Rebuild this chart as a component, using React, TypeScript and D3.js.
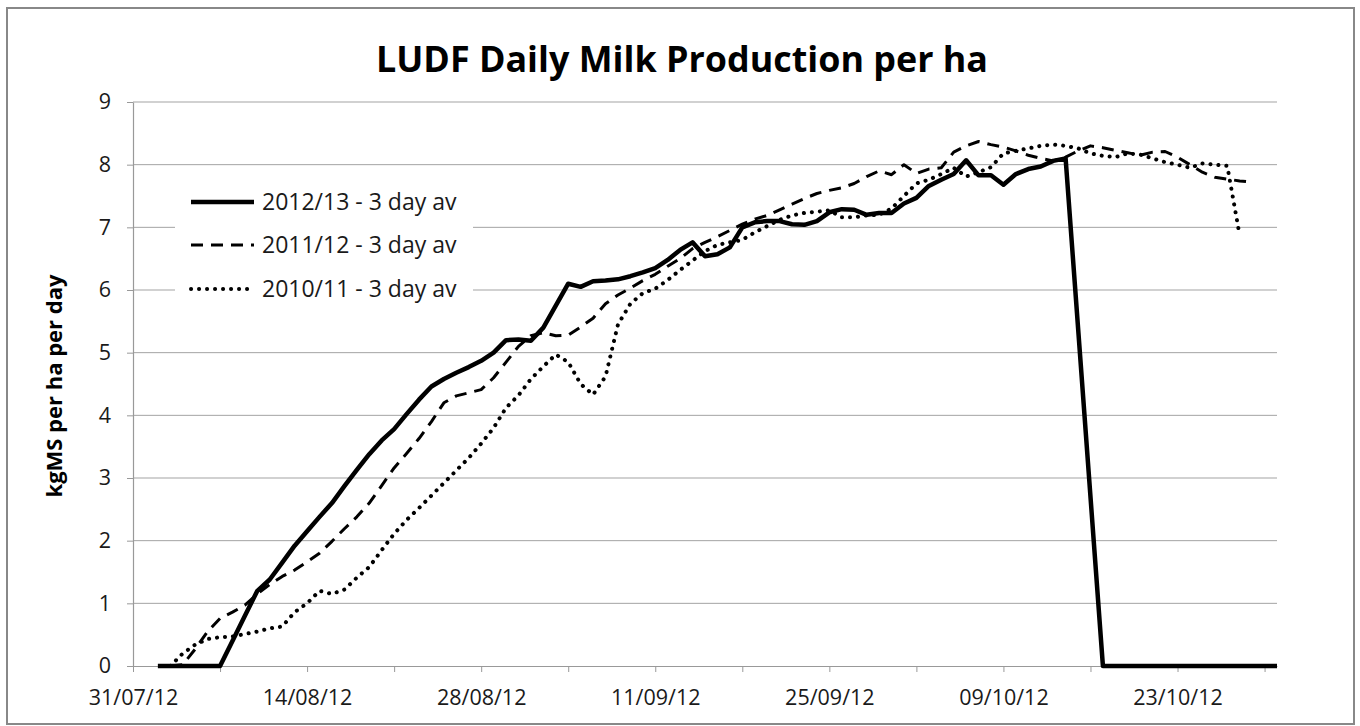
import { useEffect, useRef } from "react";
import * as d3 from "d3";

// daily 3-day-average values from 31/07/12 onwards (index = day), null = no reading
const season1213 = [
  null, null, 0, 0, 0, 0, 0, 0, 0.4, 0.8,
  1.2, 1.38, 1.65, 1.92, 2.15, 2.38, 2.6, 2.87, 3.13, 3.38,
  3.6, 3.78, 4.02, 4.25, 4.46, 4.58, 4.68, 4.77, 4.87, 5.0,
  5.2, 5.21, 5.19, 5.4, 5.75, 6.1, 6.05, 6.14, 6.15, 6.17,
  6.22, 6.28, 6.35, 6.48, 6.64, 6.76, 6.54, 6.57, 6.68, 7.0,
  7.08, 7.1, 7.1, 7.05, 7.04, 7.1, 7.24, 7.29, 7.28, 7.2,
  7.23, 7.23, 7.38, 7.47, 7.66, 7.76, 7.85, 8.07, 7.83, 7.83,
  7.68, 7.85, 7.93, 7.97, 8.06, 8.1, null, null, 0, 0,
  0, 0, 0, 0, 0, 0, 0, 0, 0, 0,
  0, 0, 0,
];

const season1112 = [
  null, null, null, 0, 0.02, 0.27, 0.55, 0.76, 0.86, 0.97,
  1.15, 1.3, 1.43, 1.53, 1.66, 1.8, 1.99, 2.19, 2.38, 2.6,
  2.88, 3.16, 3.39, 3.63, 3.9, 4.2, 4.31, 4.36, 4.41, 4.6,
  4.85, 5.1, 5.27, 5.32, 5.27, 5.28, 5.41, 5.55, 5.78, 5.92,
  6.03, 6.15, 6.25, 6.38, 6.5, 6.66, 6.76, 6.85, 6.95, 7.05,
  7.13, 7.19, 7.28, 7.37, 7.46, 7.54, 7.59, 7.63, 7.7, 7.81,
  7.9, 7.84, 8.0, 7.86, 7.93, 7.95, 8.2, 8.3, 8.37, 8.32,
  8.28, 8.22, 8.15, 8.1, 8.06, 8.12, 8.22, 8.3, 8.27, 8.23,
  8.19, 8.15, 8.2, 8.21, 8.12, 8.0, 7.88, 7.8, 7.77, 7.74,
  7.72, null, null,
];

const season1011 = [
  null, null, null, 0, 0.2, 0.34, 0.43, 0.46, 0.47, 0.51,
  0.55, 0.6, 0.63, 0.86, 1.0, 1.2, 1.15, 1.22, 1.41, 1.58,
  1.85, 2.11, 2.33, 2.52, 2.72, 2.92, 3.12, 3.32, 3.55, 3.8,
  4.12, 4.32, 4.58, 4.78, 4.97, 4.85, 4.5, 4.33, 4.62, 5.45,
  5.78, 5.95, 6.02, 6.16, 6.32, 6.47, 6.62, 6.72, 6.76, 6.8,
  6.92, 7.02, 7.12, 7.19, 7.23, 7.25, 7.27, 7.16, 7.16, 7.19,
  7.2, 7.3, 7.5, 7.7, 7.76, 7.85, 7.95, 7.81, 7.88, 7.96,
  8.18, 8.22, 8.26, 8.3, 8.32, 8.3, 8.26, 8.18, 8.14, 8.12,
  8.18, 8.16, 8.1, 8.04, 8.0, 7.95, 8.02, 8.0, 7.98, 6.87,
  null, null, null,
];

const seriesNames = ["2012/13 - 3 day av", "2011/12 - 3 day av", "2010/11 - 3 day av"];
const yTicks = [0, 1, 2, 3, 4, 5, 6, 7, 8, 9];

const startDate = new Date(Date.UTC(2012, 6, 31));
const endDate = new Date(Date.UTC(2012, 9, 31));

const App = () => {
  const ref = useRef(null);

  useEffect(() => {
    const width = 1360,
      height = 726;
    const plot = { left: 133, right: 1277, top: 102, bottom: 666 };
    const font = "'Open Sans', 'DejaVu Sans', sans-serif";

    const svg = d3.select(ref.current);
    svg.selectAll("*").remove();
    svg.attr("width", width).attr("height", height);

    // chart area frame
    svg
      .append("rect")
      .attr("x", 7)
      .attr("y", 8)
      .attr("width", 1347)
      .attr("height", 716)
      .attr("fill", "white")
      .attr("stroke", "#888")
      .attr("stroke-width", 2);

    const x = d3.scaleUtc().domain([startDate, endDate]).range([plot.left, plot.right]);
    const y = d3.scaleLinear().domain([0, 9]).range([plot.bottom, plot.top]);

    // gridlines
    svg
      .append("g")
      .selectAll("line")
      .data(yTicks.filter((t) => t > 0))
      .join("line")
      .attr("x1", plot.left)
      .attr("x2", plot.right)
      .attr("y1", (d) => y(d))
      .attr("y2", (d) => y(d))
      .attr("stroke", "#a3a3a3")
      .attr("stroke-width", 1);

    // x axis: a tick every week, a label every fortnight
    const weekTicks = d3.utcDay.range(startDate, d3.utcDay.offset(endDate, 1), 7);
    const fmt = d3.utcFormat("%d/%m/%y");
    const xAxis = svg
      .append("g")
      .attr("transform", `translate(0,${plot.bottom})`)
      .call(
        d3
          .axisBottom(x)
          .tickValues(weekTicks)
          .tickFormat((d, i) => (i % 2 === 0 ? fmt(d) : ""))
          .tickSizeInner(6)
          .tickSizeOuter(0)
          .tickPadding(18)
      );
    xAxis.select(".domain").attr("stroke", "#999").attr("stroke-width", 1.2);
    xAxis.selectAll(".tick line").attr("stroke", "#999");
    xAxis
      .selectAll("text")
      .attr("fill", "#1a1a1a")
      .style("font-family", font)
      .style("font-size", "21.5px");

    // y axis
    const yAxis = svg
      .append("g")
      .attr("transform", `translate(${plot.left},0)`)
      .call(d3.axisLeft(y).tickValues(yTicks).tickSizeInner(6).tickSizeOuter(0).tickPadding(16));
    yAxis.select(".domain").attr("stroke", "#999").attr("stroke-width", 1.2);
    yAxis.selectAll(".tick line").attr("stroke", "#999");
    yAxis
      .selectAll("text")
      .attr("fill", "#1a1a1a")
      .style("font-family", font)
      .style("font-size", "21.5px");

    // title
    svg
      .append("text")
      .attr("x", 682)
      .attr("y", 72)
      .attr("text-anchor", "middle")
      .attr("textLength", 612)
      .attr("lengthAdjust", "spacingAndGlyphs")
      .style("font-family", font)
      .style("font-weight", "bold")
      .style("font-size", "36px")
      .text("LUDF Daily Milk Production per ha");

    // y axis title
    svg
      .append("text")
      .attr("transform", "translate(62,386) rotate(-90)")
      .attr("text-anchor", "middle")
      .attr("textLength", 223)
      .attr("lengthAdjust", "spacingAndGlyphs")
      .style("font-family", font)
      .style("font-weight", "bold")
      .style("font-size", "21px")
      .text("kgMS per ha per day");

    const styles = [
      { width: 4.5, dash: null, cap: "butt" },
      { width: 3, dash: "12,8", cap: "butt" },
      { width: 4, dash: "0.1,7.9", cap: "round" },
    ];
    const allSeries = [season1213, season1112, season1011];

    const line = d3
      .line()
      .x((d) => x(d3.utcDay.offset(startDate, d[0])))
      .y((d) => y(d[1]));

    // draw oldest first so the current season sits on top
    [2, 1, 0].forEach((k) => {
      const pts = allSeries[k]
        .map((v, i) => [i, v])
        .filter((p) => p[1] !== null);
      svg
        .append("path")
        .datum(pts)
        .attr("fill", "none")
        .attr("stroke", "black")
        .attr("stroke-width", styles[k].width)
        .attr("stroke-dasharray", styles[k].dash)
        .attr("stroke-linecap", styles[k].cap)
        .attr("stroke-linejoin", "round")
        .attr("d", line);
    });

    // legend
    const legend = svg.append("g");
    legend
      .append("rect")
      .attr("x", 175)
      .attr("y", 172)
      .attr("width", 298)
      .attr("height", 146)
      .attr("fill", "white");
    const rows = [202, 245, 289];
    seriesNames.forEach((name, k) => {
      legend
        .append("line")
        .attr("x1", 191)
        .attr("x2", 254)
        .attr("y1", rows[k])
        .attr("y2", rows[k])
        .attr("stroke", "black")
        .attr("stroke-width", styles[k].width)
        .attr("stroke-dasharray", styles[k].dash)
        .attr("stroke-linecap", styles[k].cap);
      legend
        .append("text")
        .attr("x", 262)
        .attr("y", rows[k])
        .attr("dy", "0.36em")
        .attr("fill", "#1a1a1a")
        .style("font-family", font)
        .style("font-size", "23px")
        .text(name);
    });
  }, []);

  return (
    <svg
      ref={ref}
      style={{ position: "absolute", left: 0, top: 0, background: "white" }}
    ></svg>
  );
};

export default App;
